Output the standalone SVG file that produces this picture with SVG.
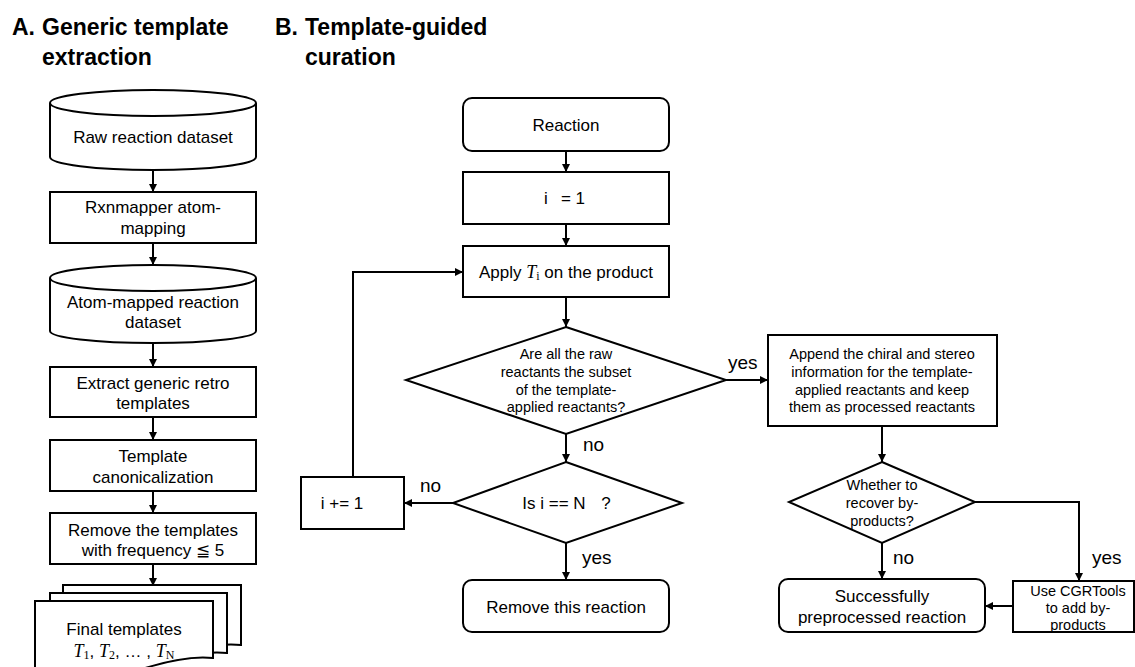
<svg xmlns="http://www.w3.org/2000/svg" width="1135" height="667" viewBox="0 0 1135 667">
<defs>
<style>
.s{fill:#fff;stroke:#000;stroke-width:2}
.t{font-family:"Liberation Sans",Arial,sans-serif;font-size:17px;fill:#000;text-anchor:middle;dominant-baseline:central}
.m{font-size:14.5px}
.l{font-family:"Liberation Sans",Arial,sans-serif;font-size:19px;fill:#000;dominant-baseline:central}
.h{font-family:"Liberation Sans",Arial,sans-serif;font-size:23px;font-weight:bold;fill:#000}
.c{fill:none;stroke:#000;stroke-width:2;marker-end:url(#a)}
.mi{font-family:"Liberation Serif","Times New Roman",serif;font-style:italic;font-size:18px}
.mu{font-family:"Liberation Serif","Times New Roman",serif;font-size:12px}
</style>
<marker id="a" viewBox="0 0 10 10" refX="10" refY="5" markerWidth="4" markerHeight="4" orient="auto" markerUnits="strokeWidth">
<path d="M0,0 L10,5 L0,10 Z" fill="#000"/>
</marker>
</defs>
<rect width="1135" height="667" fill="#fff"/>

<g id="titles">
<text class="h" x="12" y="35">A.</text>
<text class="h" x="42" y="35">Generic template</text>
<text class="h" x="42" y="65">extraction</text>
<text class="h" x="275" y="35">B.</text>
<text class="h" x="305" y="35">Template-guided</text>
<text class="h" x="305" y="65">curation</text>
</g>

<g id="connectors">
<path class="c" d="M153,170 V192"/>
<path class="c" d="M153,243 V265"/>
<path class="c" d="M153,343 V367"/>
<path class="c" d="M153,417 V440"/>
<path class="c" d="M153,491 V513"/>
<path class="c" d="M153,564 V586"/>
<path class="c" d="M566,151 V172"/>
<path class="c" d="M566,224 V246"/>
<path class="c" d="M566,297 V327"/>
<path class="c" d="M566,434 V462"/>
<path class="c" d="M453,503 H404"/>
<path class="c" d="M566,543 V580"/>
<path class="c" d="M353,477 V272 H463"/>
<path class="c" d="M726,380 H768"/>
<path class="c" d="M882,426 V462"/>
<path class="c" d="M882,543 V579"/>
<path class="c" d="M975,502 H1079 V581"/>
<path class="c" d="M1013,606 H985"/>
<text class="l" x="583" y="444">no</text>
<text class="l" x="420" y="485">no</text>
<text class="l" x="582" y="557">yes</text>
<text class="l" x="728" y="362">yes</text>
<text class="l" x="893" y="557">no</text>
<text class="l" x="1092" y="557">yes</text>
</g>

<g id="raw-dataset">
<path class="s" d="M50,103 V157 A103,13 0 0 0 256,157 V103"/>
<ellipse class="s" cx="153" cy="103" rx="103" ry="13"/>
<text class="t" x="153" y="137">Raw reaction dataset</text>
</g>

<g id="rxnmapper">
<rect class="s" x="50" y="192" width="206" height="51"/>
<text class="t" x="153" y="207">Rxnmapper atom-</text>
<text class="t" x="153" y="228">mapping</text>
</g>

<g id="mapped-dataset">
<path class="s" d="M50,278 V331 A103,12 0 0 0 256,331 V278"/>
<ellipse class="s" cx="153" cy="278" rx="103" ry="13"/>
<text class="t" x="153" y="302">Atom-mapped reaction</text>
<text class="t" x="153" y="322">dataset</text>
</g>

<g id="extract">
<rect class="s" x="50" y="367" width="206" height="50"/>
<text class="t" x="153" y="383">Extract generic retro</text>
<text class="t" x="153" y="403">templates</text>
</g>

<g id="canonicalization">
<rect class="s" x="50" y="440" width="206" height="51"/>
<text class="t" x="153" y="456">Template</text>
<text class="t" x="153" y="477">canonicalization</text>
</g>

<g id="remove-templates">
<rect class="s" x="50" y="513" width="206" height="51"/>
<text class="t" x="153" y="530">Remove the templates</text>
<text class="t" x="153" y="550">with frequency ≦ 5</text>
</g>

<g id="final-templates">
<path class="s" d="M63,585 H241 V645 C222,643 198,647 170,656 C135,668 95,674 63,668 Z"/>
<path class="s" d="M50,593 H227 V653 C208,651 184,655 156,664 C121,676 81,682 50,676 Z"/>
<path class="s" d="M35,601 H213 V658 C195,656 170,660 142,669 C107,681 67,687 35,681 Z"/>
<text class="t" x="124" y="629">Final templates</text>
<text class="t" x="124" y="651"><tspan class="mi">T</tspan><tspan class="mu" dy="4">1</tspan><tspan dy="-4">, </tspan><tspan class="mi">T</tspan><tspan class="mu" dy="4">2</tspan><tspan dy="-4">, … , </tspan><tspan class="mi">T</tspan><tspan class="mu" dy="4">N</tspan></text>
</g>

<g id="reaction">
<rect class="s" x="463" y="98" width="206" height="53" rx="9"/>
<text class="t" x="566" y="125">Reaction</text>
</g>

<g id="init-i">
<rect class="s" x="463" y="172" width="206" height="52"/>
<text class="t" x="546" y="198">i</text>
<text class="t" x="573" y="198">= 1</text>
</g>

<g id="apply">
<rect class="s" x="463" y="246" width="206" height="51"/>
<text class="t" x="566" y="272">Apply <tspan class="mi">T</tspan><tspan class="mu" dy="4">i</tspan><tspan dy="-4"> on the product</tspan></text>
</g>

<g id="subset-check">
<path class="s" d="M566,327 L726,380 L566,434 L406,380 Z"/>
<text class="t m" x="566" y="354">Are all the raw</text>
<text class="t m" x="566" y="372">reactants the subset</text>
<text class="t m" x="566" y="390">of the template-</text>
<text class="t m" x="566" y="407">applied reactants?</text>
</g>

<g id="is-last">
<path class="s" d="M566,462 L682,503 L566,543 L453,503 Z"/>
<text class="t" x="554" y="503">Is i == N</text>
<text class="t" x="606" y="503">?</text>
</g>

<g id="increment">
<rect class="s" x="301" y="477" width="103" height="52"/>
<text class="t" x="342" y="503">i += 1</text>
</g>

<g id="remove-reaction">
<rect class="s" x="463" y="580" width="206" height="52" rx="9"/>
<text class="t" x="566" y="607">Remove this reaction</text>
</g>

<g id="append">
<rect class="s" x="768" y="335" width="229" height="91"/>
<text class="t m" x="882" y="354">Append the chiral and stereo</text>
<text class="t m" x="882" y="372">information for the template-</text>
<text class="t m" x="882" y="390">applied reactants and keep</text>
<text class="t m" x="882" y="407">them as processed reactants</text>
</g>

<g id="recover-check">
<path class="s" d="M882,462 L975,502 L882,543 L789,502 Z"/>
<text class="t m" x="882" y="485">Whether to</text>
<text class="t m" x="882" y="503">recover by-</text>
<text class="t m" x="882" y="521">products?</text>
</g>

<g id="success">
<rect class="s" x="779" y="579" width="206" height="53" rx="9"/>
<text class="t" x="882" y="596">Successfully</text>
<text class="t" x="882" y="617">preprocessed reaction</text>
</g>

<g id="cgrtools">
<rect class="s" x="1013" y="581" width="121" height="51"/>
<text class="t m" x="1078" y="591">Use CGRTools</text>
<text class="t m" x="1078" y="608">to add by-</text>
<text class="t m" x="1078" y="625">products</text>
</g>
</svg>
